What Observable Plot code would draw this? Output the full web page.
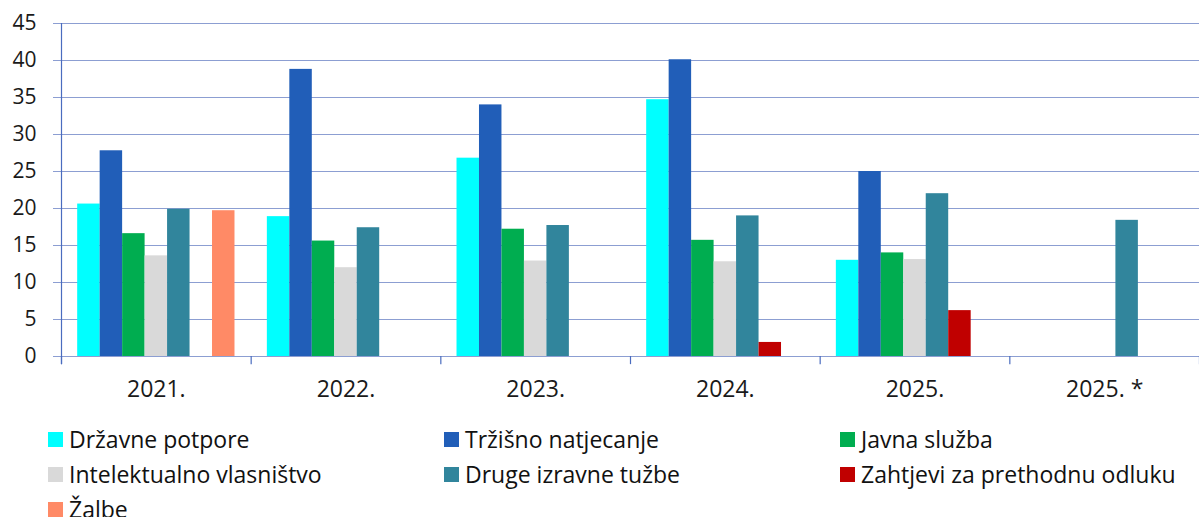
<!DOCTYPE html>
<html><head><meta charset="utf-8">
<script src="https://cdn.jsdelivr.net/npm/d3@7"></script>
<script src="https://cdn.jsdelivr.net/npm/@observablehq/plot@0.6"></script>
<style>
body{margin:0;background:#fff;font-family:"Open Sans",sans-serif;overflow:hidden;}
#legend{display:grid;grid-template-columns:396px 396px 396px;row-gap:19px;margin:20px 0 0 48px;font-size:23px;color:#111;}
.item{display:flex;align-items:center;height:16px;line-height:16px;white-space:nowrap;}
.sw{width:15px;height:15px;margin-right:6px;flex:none;}
</style></head><body><div id="chart"></div><div id="legend"></div>
<script>
const years = ["2021.", "2022.", "2023.", "2024.", "2025.", "2025. *"];
const seriesNames = ["Državne potpore", "Tržišno natjecanje", "Javna služba", "Intelektualno vlasništvo", "Druge izravne tužbe", "Zahtjevi za prethodnu odluku", "Žalbe"];
const seriesColors = ["#00FFFF", "#215EB8", "#00AD50", "#D9D9D9", "#31859C", "#C00000", "#FF8A66"];
const drzavnePotpore = [20.6, 18.9, 26.8, 34.7, 13.0, null];
const trzisnoNatjecanje = [27.8, 38.8, 34.0, 40.1, 25.0, null];
const javnaSluzba = [16.6, 15.6, 17.2, 15.7, 14.0, null];
const intelektualnoVlasnistvo = [13.6, 12.0, 12.9, 12.8, 13.1, null];
const drugeIzravneTuzbe = [19.9, 17.4, 17.7, 19.0, 22.0, 18.4];
const zahtjeviPrethodnaOdluka = [null, null, null, 1.9, 6.2, null];
const zalbe = [19.7, null, null, null, null, null];
const yTicks = [0, 5, 10, 15, 20, 25, 30, 35, 40, 45];

const seriesValues = [drzavnePotpore, trzisnoNatjecanje, javnaSluzba, intelektualnoVlasnistvo, drugeIzravneTuzbe, zahtjeviPrethodnaOdluka, zalbe];
const slot = d3.scaleBand().domain(seriesNames).range([0, 1]).paddingInner(0).paddingOuter(0.72);
const rows = [];
years.forEach((yr, gi) => {
  seriesNames.forEach((s, si) => {
    const v = seriesValues[si][gi];
    if (v != null) rows.push({year: yr, series: s, value: v, x1: gi + slot(s), x2: gi + slot(s) + slot.bandwidth()});
  });
});
const bounds = d3.range(years.length + 1);
const gridColor = "#8C9ED2";
const axisColor = "#4A6CBF";

const chart = Plot.plot({
  width: 1199,
  height: 411,
  marginLeft: 61,
  marginRight: 0,
  marginTop: 23,
  marginBottom: 55,
  style: {fontFamily: "Open Sans", fontSize: "20px", color: "#1a1a1a", background: "#fff"},
  x: {domain: [0, years.length]},
  y: {domain: [0, 45]},
  color: {domain: seriesNames, range: seriesColors},
  marks: [
    Plot.ruleY(yTicks, {stroke: gridColor, strokeWidth: 1.2}),
    Plot.axisY({ticks: yTicks, tickSize: 8, tickPadding: 17, stroke: gridColor, fill: "#1a1a1a", fontSize: 21, label: null}),
    Plot.rectY(rows, {x1: "x1", x2: "x2", y: "value", fill: "series"}),
    Plot.ruleX(bounds, {y1: -1.1, y2: 0, stroke: axisColor, strokeWidth: 1.2}),
    Plot.ruleX([0], {y1: -1.1, y2: 45, stroke: axisColor, strokeWidth: 1.2}),
    Plot.axisX({ticks: years.map((_, i) => i + 0.5), tickFormat: v => years[Math.floor(v)], tickSize: 0, tickPadding: 24, fontSize: 23, label: null, fill: "#1a1a1a"})
  ]
});
document.getElementById("chart").appendChild(chart);

const legend = document.getElementById("legend");
seriesNames.forEach((s, i) => {
  const it = document.createElement("div");
  it.className = "item";
  const sw = document.createElement("span");
  sw.className = "sw";
  sw.style.background = seriesColors[i];
  const tx = document.createElement("span");
  tx.textContent = s;
  it.appendChild(sw); it.appendChild(tx);
  legend.appendChild(it);
});
</script></body></html>
